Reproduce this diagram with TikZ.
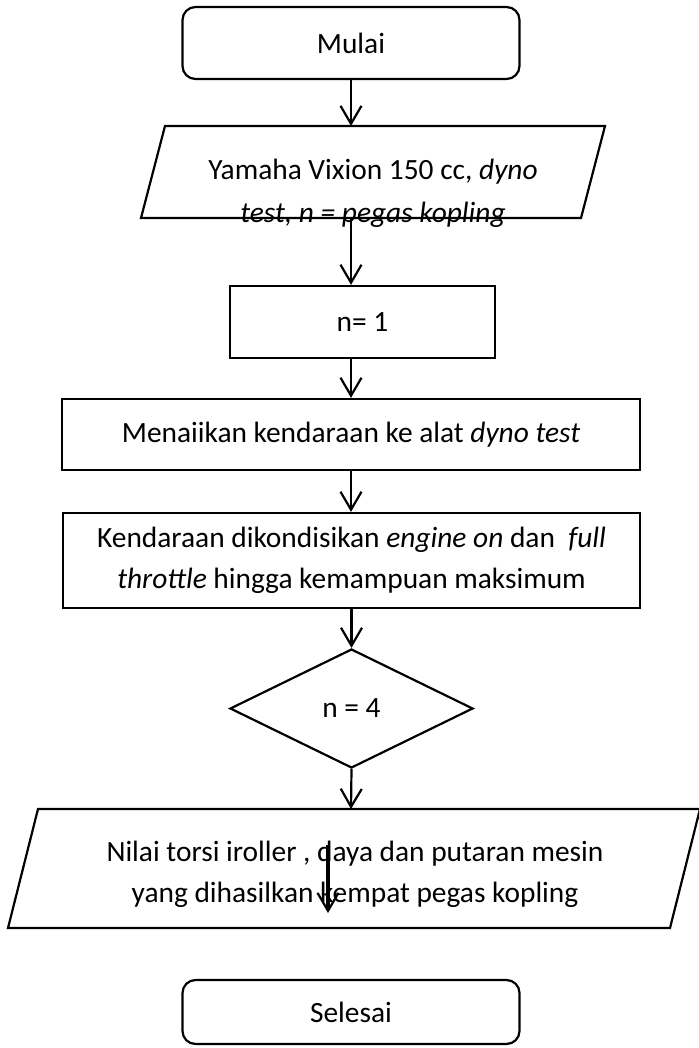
\documentclass[tikz,border=0pt]{standalone}
\usepackage{fontspec}
\setmainfont{Carlito}
\usetikzlibrary{arrows.meta,shapes.geometric}

\tikzset{
	every node/.style={font=\fontsize{14.7}{20.5}\selectfont},
	box/.style={draw, line width=1.1pt, inner sep=0pt, align=center},
	term/.style={box, rounded corners=6.5pt},
	flow/.style={line width=1.1pt, -{Straight Barb[length=9pt,width=10.5pt,line width=1.1pt]}}
}

\begin{document}
\begin{tikzpicture}[x=0.5pt,y=-0.5pt]
			%%%%% START %%%%%
			\useasboundingbox (0,0) rectangle (698,1048);
			
			\node[term, minimum width=168.5pt, minimum height=36pt] (mulai) at (351,43) {Mulai};
			
			\draw[box] (165,126) -- (605,126) -- (581,218) -- (141,218) -- cycle;
			\coordinate (in1top) at (351,126);
			\coordinate (in1bot) at (351,218);
			\node[align=center, font=\fontsize{14.7}{21.5}\selectfont] (in1) at (373,193) {Yamaha Vixion 150 cc, \textit{dyno}\\ \textit{test, n = pegas kopling}};
			
			\node[box, minimum width=132.5pt, minimum height=36pt] (n1) at (362.5,322) {n= 1};
			\node[box, minimum width=289pt, minimum height=35.5pt] (naik) at (351,434.5) {Menaiikan kendaraan ke alat \textit{dyno test}};
			\node[box, minimum width=288.5pt, minimum height=47.5pt] (kondisi) at (351.5,560.5) {Kendaraan dikondisikan \textit{engine on} dan \ \textit{full}\\ \textit{throttle} hingga kemampuan maksimum};
			\node[box, shape=diamond, minimum width=121.5pt, minimum height=59.5pt] (cek) at (351.5,708.5) {n = 4};
			
			\draw[box] (38,809) -- (700,809) -- (670,928) -- (8,928) -- cycle;
			\coordinate (out1top) at (351,809);
			\node[align=center] (out1) at (355,874) {Nilai torsi iroller , daya dan putaran mesin\\ yang dihasilkan kempat pegas kopling};
			
			\node[term, minimum width=168.5pt, minimum height=32pt] (selesai) at (351,1012) {Selesai};
			
			\draw[flow] (mulai.south) -- (in1top);
			\draw[flow] (in1bot) -- (in1bot |- n1.north);
			\draw[flow] (in1bot |- n1.south) -- (naik.north);
			\draw[flow] (naik.south) -- (naik.south |- kondisi.north);
			\draw[flow] (kondisi.south) -- (cek.north);
			\draw[flow] (cek.south) -- (out1top);
			
			\coordinate (s1) at (328,845);
			\coordinate (s2) at (328,913);
			\draw[flow, line width=2pt] (s1) -- (s2);
			%%%%% END %%%%%
\end{tikzpicture}
\end{document}
